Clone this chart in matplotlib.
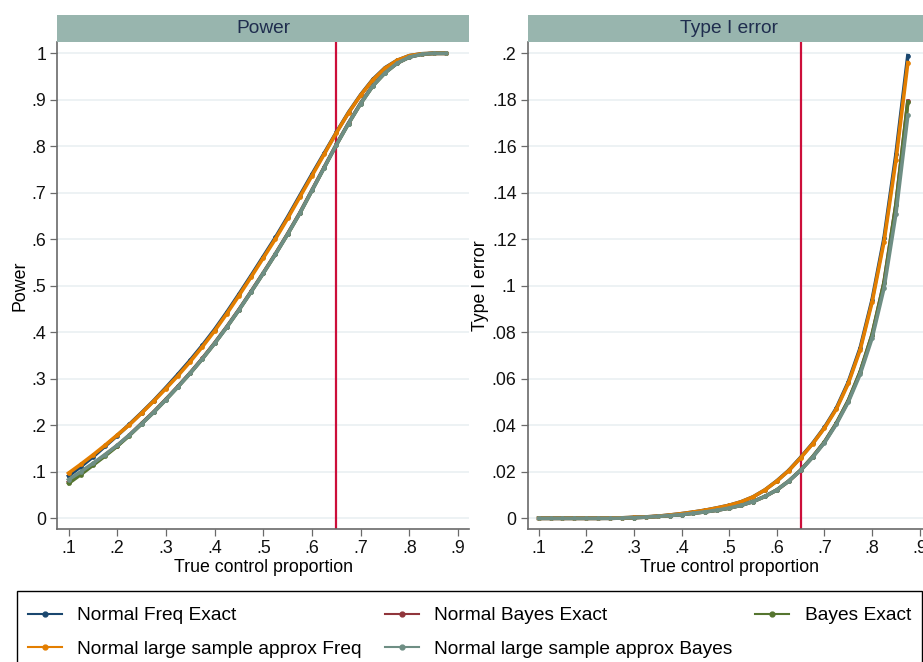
import matplotlib
matplotlib.use("Agg")
import matplotlib.pyplot as plt
from matplotlib.lines import Line2D
from matplotlib.patches import Rectangle

plt.rcParams['font.family'] = ['Liberation Sans', 'DejaVu Sans']

# true control proportion
x = [0.100, 0.125, 0.150, 0.175, 0.200, 0.225, 0.250, 0.275, 0.300, 0.325,
     0.350, 0.375, 0.400, 0.425, 0.450, 0.475, 0.500, 0.525, 0.550, 0.575,
     0.600, 0.625, 0.650, 0.675, 0.700, 0.725, 0.750, 0.775, 0.800, 0.825,
     0.850, 0.875]

# power
pow_norm_freq = [0.091, 0.111, 0.132, 0.155, 0.178, 0.202, 0.227, 0.253, 0.281, 0.310,
                 0.340, 0.372, 0.406, 0.443, 0.482, 0.522, 0.563, 0.604, 0.648, 0.694,
                 0.740, 0.785, 0.830, 0.873, 0.911, 0.944, 0.969, 0.985, 0.995, 0.999,
                 1.000, 1.000]
pow_norm_bayes = [0.078, 0.097, 0.116, 0.136, 0.156, 0.179, 0.204, 0.229, 0.256, 0.284,
                  0.313, 0.344, 0.377, 0.412, 0.449, 0.488, 0.528, 0.569, 0.612, 0.657,
                  0.706, 0.755, 0.804, 0.850, 0.893, 0.931, 0.959, 0.979, 0.992, 0.998,
                  1.000, 1.000]
pow_bayes = [0.075, 0.094, 0.114, 0.134, 0.155, 0.178, 0.203, 0.228, 0.255, 0.283,
             0.312, 0.343, 0.376, 0.411, 0.448, 0.487, 0.527, 0.568, 0.611, 0.656,
             0.705, 0.754, 0.803, 0.849, 0.892, 0.930, 0.958, 0.979, 0.992, 0.998,
             1.000, 1.000]
pow_approx_freq = [0.097, 0.116, 0.136, 0.157, 0.179, 0.201, 0.226, 0.252, 0.279, 0.307,
                   0.337, 0.369, 0.403, 0.440, 0.479, 0.519, 0.560, 0.601, 0.645, 0.691,
                   0.737, 0.783, 0.829, 0.872, 0.910, 0.943, 0.968, 0.985, 0.995, 0.999,
                   1.000, 1.000]
pow_approx_bayes = [0.083, 0.100, 0.118, 0.137, 0.157, 0.179, 0.203, 0.228, 0.255, 0.283,
                    0.312, 0.343, 0.376, 0.411, 0.448, 0.487, 0.527, 0.568, 0.611, 0.656,
                    0.705, 0.754, 0.803, 0.849, 0.892, 0.930, 0.958, 0.979, 0.992, 0.998,
                    1.000, 1.000]

# type I error
t1_norm_freq = [0, 0, 0, 0, 0, 0, 0.0001, 0.0002, 0.0004, 0.0006,
                0.0009, 0.0014, 0.0020, 0.0027, 0.0035, 0.0045, 0.0056, 0.0071, 0.0092, 0.0122,
                0.0161, 0.0206, 0.0262, 0.0322, 0.0391, 0.0474, 0.0586, 0.0733, 0.0940, 0.1205,
                0.1565, 0.1990]
t1_norm_bayes = [0, 0, 0, 0, 0, 0, 0, 0.0001, 0.0003, 0.0005,
                 0.0008, 0.0012, 0.0016, 0.0022, 0.0028, 0.0035, 0.0044, 0.0056, 0.0072, 0.0094,
                 0.0122, 0.0160, 0.0207, 0.0264, 0.0328, 0.0409, 0.0506, 0.0630, 0.0790, 0.1015,
                 0.1350, 0.1794]
t1_bayes = [0, 0, 0, 0, 0, 0, 0, 0.0001, 0.0003, 0.0005,
            0.0008, 0.0012, 0.0016, 0.0022, 0.0028, 0.0035, 0.0044, 0.0056, 0.0072, 0.0094,
            0.0122, 0.0160, 0.0207, 0.0264, 0.0328, 0.0409, 0.0506, 0.0630, 0.0790, 0.1013,
            0.1348, 0.1790]
t1_approx_freq = [0, 0, 0, 0, 0, 0, 0.0001, 0.0002, 0.0004, 0.0006,
                  0.0009, 0.0014, 0.0020, 0.0027, 0.0035, 0.0045, 0.0056, 0.0071, 0.0092, 0.0122,
                  0.0160, 0.0205, 0.0260, 0.0320, 0.0388, 0.0470, 0.0580, 0.0725, 0.0930, 0.1190,
                  0.1540, 0.1960]
t1_approx_bayes = [0, 0, 0, 0, 0, 0, 0, 0.0001, 0.0003, 0.0005,
                   0.0008, 0.0012, 0.0016, 0.0022, 0.0028, 0.0035, 0.0044, 0.0056, 0.0072, 0.0094,
                   0.0122, 0.0160, 0.0206, 0.0262, 0.0325, 0.0405, 0.0500, 0.0620, 0.0775, 0.0990,
                   0.1310, 0.1733]

names = ["Normal Freq Exact", "Normal Bayes Exact", "Bayes Exact",
         "Normal large sample approx Freq", "Normal large sample approx Bayes"]
colors = ['#1a476f', '#90353b', '#55752f', '#e37e00', '#6e8e84']

xticks = [0.1, 0.2, 0.3, 0.4, 0.5, 0.6, 0.7, 0.8, 0.9]
xtick_labels = [".1", ".2", ".3", ".4", ".5", ".6", ".7", ".8", ".9"]
pow_ticks = [0, 0.1, 0.2, 0.3, 0.4, 0.5, 0.6, 0.7, 0.8, 0.9, 1.0]
pow_labels = ["0", ".1", ".2", ".3", ".4", ".5", ".6", ".7", ".8", ".9", "1"]
t1_ticks = [0, 0.02, 0.04, 0.06, 0.08, 0.10, 0.12, 0.14, 0.16, 0.18, 0.20]
t1_labels = ["0", ".02", ".04", ".06", ".08", ".1", ".12", ".14", ".16", ".18", ".2"]

W, H = 923, 662
fig = plt.figure(figsize=(W / 100, H / 100), dpi=100)

panels = [
    # left px, width px, title, ylabel, series, ticks, labels, ylim
    (57.3, 412, "Power", "Power",
     [pow_norm_freq, pow_norm_bayes, pow_bayes, pow_approx_freq, pow_approx_bayes],
     pow_ticks, pow_labels, (-0.0237, 1.0237)),
    (527.7, 403, "Type I error", "Type I error",
     [t1_norm_freq, t1_norm_bayes, t1_bayes, t1_approx_freq, t1_approx_bayes],
     t1_ticks, t1_labels, (-0.00473, 0.20473)),
]

strip_col = '#98b5ae'
axis_col = '#6a6a6a'

for left, width, title, ylab, series, yt, ytl, ylim in panels:
    ax = fig.add_axes([left / W, (H - 529.3) / H, width / W, 487 / H])
    for ys, c in zip(series, colors):
        ax.plot(x, ys, color=c, lw=2.6, marker='o', ms=3.4, mew=0, zorder=3)
    ax.axvline(0.65, color='#cc0e3a', lw=1.6, zorder=2)

    ax.set_xlim(0.077, 0.923)
    ax.set_ylim(*ylim)
    ax.set_xticks(xticks)
    ax.set_xticklabels(xtick_labels)
    ax.set_yticks(yt)
    ax.set_yticklabels(ytl)
    ax.tick_params(direction='out', length=5, width=0.9, color=axis_col,
                   labelsize=12.75, pad=3, labelcolor='#111111')
    ax.yaxis.grid(True, color='#e8eff1', lw=1.1)
    ax.set_axisbelow(True)
    for s in ['top', 'right']:
        ax.spines[s].set_visible(False)
    for s in ['left', 'bottom']:
        ax.spines[s].set_color(axis_col)
        ax.spines[s].set_linewidth(1.2)
    ax.set_xlabel("True control proportion", fontsize=12.75, labelpad=1)
    ax.set_ylabel(ylab, fontsize=12.75, labelpad=2)

    # title strip
    st = fig.add_axes([left / W, (H - 42.3) / H, width / W, 27.3 / H])
    st.set_facecolor(strip_col)
    st.set_xticks([])
    st.set_yticks([])
    for s in st.spines.values():
        s.set_visible(False)
    st.text(0.5, 0.5, title, ha='center', va='center', fontsize=13.8,
            color='#1f2d4e', transform=st.transAxes)

# legend box runs past the bottom edge, as in the original export
fig.patches.append(Rectangle((17.3 / W, -20 / H), 904.4 / W, (H - 590.7 + 20) / H,
                             transform=fig.transFigure, fill=False,
                             edgecolor='black', lw=1.0))

# column-major order so that it reads row by row
order = [0, 3, 1, 4, 2]
handles = [Line2D([0], [0], color=colors[i], lw=1.5, marker='o', ms=3.5) for i in order]
labels = [names[i] for i in order]
fig.legend(handles, labels, ncol=3, loc='upper left',
           bbox_to_anchor=(17.3 / W, (H - 596) / H, 904.4 / W, 0),
           mode='expand', borderaxespad=0, frameon=False,
           fontsize=13.8, handlelength=1.78,
           handletextpad=0.79, borderpad=0.57, labelspacing=0.84)

fig.savefig("out.png", dpi=100)
